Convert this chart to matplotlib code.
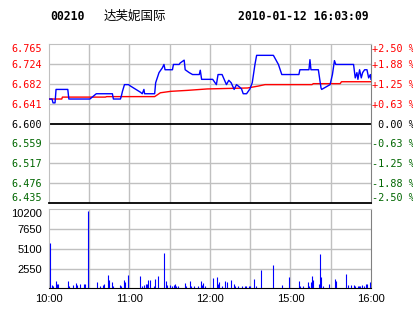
import matplotlib
matplotlib.use("Agg")
import matplotlib.pyplot as plt
import numpy as np

# header text
stock_code = "00210"
stock_name = "达芙妮国际"
stamp = "2010-01-12 16:03:09"

prev_close = 6.600
price_labels = ["6.435", "6.476", "6.517", "6.559", "6.600", "6.641", "6.682", "6.724", "6.765"]
pct_labels = ["-2.50 %", "-1.88 %", "-1.25 %", "-0.63 %", " 0.00 %", "+0.63 %", "+1.25 %", "+1.88 %", "+2.50 %"]
vol_labels = ["2550", "5100", "7650", "10200"]
time_labels = ["10:00", "11:00", "12:00", "15:00", "16:00"]

# time = minutes after 10:00, lunch break (12:30-14:30) squeezed out
price_t = [0, 2.25, 3, 4.5, 5.25, 14, 14.8, 30.5, 35.25, 47.25, 48, 53.25, 54, 54.75, 56.25, 59.25,
           60.75, 68.25, 69.5, 70.75, 71.25, 78.75, 79.5, 82, 84.5, 85.7, 86.5, 92, 92.75, 97, 97.75,
           100.75, 101.5, 104.5, 107, 112, 112.75, 113.75, 122, 124.75, 126, 129, 132.25, 134, 135.75,
           138, 139.75, 142, 143.5, 144.75, 147.25, 149.75, 151.5, 153.5, 154.75, 167.25, 171, 173.5,
           186.25, 187, 193.75, 194.5, 195.25, 200.75, 202.75, 203.25, 209.5, 211.25, 212.75, 213.75,
           227, 228.25, 229.5, 230.25, 231.5, 232.75, 233.75, 235.25, 237, 238.25, 239.5, 240]
price_v = [6.651, 6.651, 6.643, 6.643, 6.671, 6.671, 6.651, 6.651, 6.662, 6.662, 6.651, 6.651, 6.658, 6.667, 6.681, 6.681,
           6.678, 6.665, 6.662, 6.671, 6.662, 6.662, 6.685, 6.706, 6.716, 6.723, 6.712, 6.712, 6.723, 6.723, 6.726,
           6.732, 6.712, 6.706, 6.702, 6.702, 6.711, 6.692, 6.692, 6.681, 6.702, 6.702, 6.681, 6.690, 6.685,
           6.671, 6.681, 6.676, 6.672, 6.662, 6.662, 6.672, 6.685, 6.723, 6.742, 6.742, 6.723, 6.702,
           6.702, 6.712, 6.712, 6.733, 6.712, 6.712, 6.674, 6.671, 6.681, 6.702, 6.731, 6.723,
           6.723, 6.695, 6.706, 6.692, 6.712, 6.695, 6.706, 6.712, 6.712, 6.695, 6.702, 6.692]

avg_t = [0, 9.5, 10, 42, 43, 78.75, 83, 90.75, 103, 118, 148, 156, 161, 196, 197, 217, 218, 240]
avg_v = [6.651, 6.651, 6.655, 6.655, 6.656, 6.656, 6.664, 6.667, 6.669, 6.672, 6.674, 6.678, 6.681,
         6.681, 6.683, 6.683, 6.687, 6.687]

vol_t = [1, 2, 3, 5, 6, 7, 14, 15, 18, 20, 21, 23, 26, 27, 29, 36, 38, 40, 41, 44, 45, 47, 48, 53, 54,
         56, 57, 59, 68, 69, 71, 72, 73, 74, 75, 78, 79, 81, 86, 87, 88, 90, 92, 93, 94, 95, 96, 101,
         102, 105, 106, 108, 111, 113, 114, 115, 116, 122, 125, 126, 127, 129, 131, 133, 136, 138, 139,
         141, 144, 146, 147, 149, 150, 153, 154, 158, 167, 174, 179, 186, 187, 189, 193, 194, 195, 196,
         197, 201, 202, 203, 204, 209, 213, 214, 221, 223, 225, 227, 228, 230, 231, 232, 233, 235, 236,
         237, 239, 240]
vol_v = [5900, 430, 300, 940, 500, 600, 940, 300, 430, 730, 430, 560, 560, 560, 9970, 800, 300, 430, 560,
         1680, 1020, 800, 300, 430, 300, 1070, 860, 1680, 1590, 300, 430, 600, 600, 1030, 1120, 300, 1160,
         1590, 4600, 950, 430, 430, 300, 430, 600, 300, 300, 730, 300, 990, 300, 300, 300, 990, 430, 730,
         300, 1290, 1460, 600, 860, 300, 990, 860, 1030, 560, 300, 300, 300, 300, 300, 300, 300, 1160, 300,
         2400, 3000, 430, 1420, 950, 300, 300, 800, 300, 800, 1590, 1120, 520, 4390, 1420, 300, 560, 1250,
         990, 1850, 430, 430, 430, 300, 300, 300, 300, 430, 300, 560, 560, 800, 300]

W, H = 414, 314
mono = "DejaVu Sans Mono"
sans = "Liberation Sans"
grid_c = "#c0c0c0"
red = "#ff0000"
green = "#006600"

fig = plt.figure(figsize=(W / 100, H / 100), dpi=100)

# ---- price panel ----
ax = fig.add_axes([49 / W, 1 - 202.7 / H, 322 / W, 158.4 / H])
ax.set_xlim(0, 240)
ax.set_ylim(6.435, 6.765)
yt = np.linspace(6.435, 6.765, 9)
for y in yt[1:-1]:
    if abs(y - prev_close) > 1e-6:
        ax.axhline(y, color=grid_c, lw=1, zorder=1)
for x in range(30, 240, 30):
    ax.axvline(x, color=grid_c, lw=1, zorder=1)
ax.axhline(prev_close, color="black", lw=1.3, zorder=2)
ax.plot(avg_t, avg_v, color=red, lw=1, zorder=3)
ax.plot(price_t, price_v, color="#0000ff", lw=1, zorder=4)

ax.set_xticks([])
ax.set_yticks(yt)
ax.set_yticklabels(price_labels, fontfamily=mono, fontsize=7.3)
ax.tick_params(axis="y", length=0, pad=5)
labs = ax.get_yticklabels()
for i, lab in enumerate(labs):
    lab.set_color(green if i < 4 else ("black" if i == 4 else red))
labs[-1].set_va("top")
labs[0].set_va("bottom")

axr = ax.twinx()
axr.set_ylim(6.435, 6.765)
axr.set_yticks(yt)
axr.set_yticklabels(pct_labels, fontfamily=mono, fontsize=7.3)
axr.tick_params(axis="y", length=0, pad=1)
rl = axr.get_yticklabels()
for i, lab in enumerate(rl):
    lab.set_color(green if i < 4 else ("black" if i == 4 else red))
rl[-1].set_va("top")
rl[0].set_va("bottom")
for s in axr.spines.values():
    s.set_visible(False)

for s in ["left", "top"]:
    ax.spines[s].set_color(grid_c)
ax.spines["right"].set_color("#808080")
ax.spines["bottom"].set_color("black")
ax.spines["bottom"].set_linewidth(1.3)

# ---- volume panel ----
av = fig.add_axes([49 / W, 1 - 288.3 / H, 322 / W, 79 / H])
av.set_xlim(0, 240)
av.set_ylim(0, 10200)
for y in [2550, 5100, 7650]:
    av.axhline(y, color=grid_c, lw=1, zorder=1)
for x in range(30, 240, 30):
    av.axvline(x, color=grid_c, lw=1, zorder=1)
av.vlines(vol_t, 0, vol_v, color="#0000ff", lw=0.8, zorder=3)

av.set_yticks([2550, 5100, 7650, 10200])
av.set_yticklabels(vol_labels, fontfamily=sans, fontsize=8)
av.get_yticklabels()[-1].set_va("top")
av.set_xticks([0, 60, 120, 180, 240])
av.set_xticklabels(time_labels, fontfamily=sans, fontsize=8)
av.tick_params(length=0)
av.tick_params(axis="y", pad=5)
av.tick_params(axis="x", pad=4)
for s in ["left", "top"]:
    av.spines[s].set_color(grid_c)
av.spines["right"].set_color("#808080")
av.spines["bottom"].set_color("black")

# ---- header ----
fig.text(50 / W, 1 - 16 / H, stock_code, fontfamily=mono, fontweight="bold", fontsize=8.3, va="center")
fig.text(104 / W, 1 - 16 / H, stock_name, fontfamily=["Noto Sans CJK SC", "DejaVu Sans"], fontsize=9, va="center")
fig.text(238 / W, 1 - 16 / H, stamp, fontfamily=mono, fontweight="bold", fontsize=8.3, va="center")

fig.savefig("out.png", dpi=100, facecolor="white")
